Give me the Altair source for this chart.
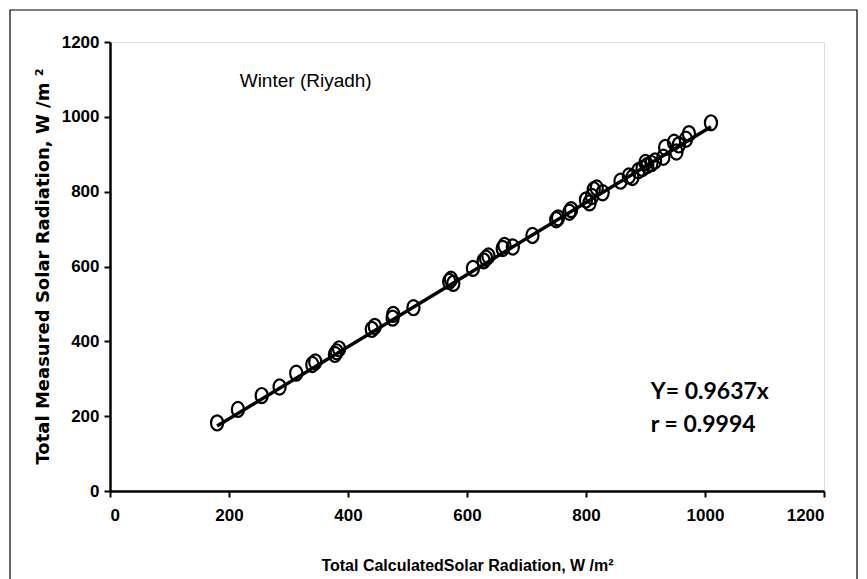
import altair as alt
import pandas as pd

# Data
calc = [180, 215, 255, 285, 313, 340, 345, 378, 381, 385, 440, 445, 475, 476, 510,
        570, 573, 577, 610, 628, 632, 636, 660, 663, 677, 710, 750, 753, 772, 775,
        800, 806, 810, 813, 818, 828, 858, 872, 878, 888, 895, 900, 903, 910, 916,
        930, 933, 948, 952, 956, 968, 973, 1010]
meas = [182, 218, 255, 278, 315, 338, 345, 365, 372, 380, 432, 440, 462, 472, 490,
        560, 566, 555, 595, 615, 622, 628, 648, 656, 652, 683, 725, 730, 745, 752,
        778, 770, 787, 805, 810, 797, 828, 842, 838, 856, 862, 878, 870, 875, 882,
        892, 918, 932, 906, 925, 940, 955, 984]

slope = 0.9637
fit_x = [180, 1010]
ticks = [0, 200, 400, 600, 800, 1000, 1200]

pts = pd.DataFrame({"calc": calc, "meas": meas})
fit = pd.DataFrame({"calc": fit_x, "meas": [slope * v for v in fit_x]})

labels = pd.DataFrame({
    "calc": [218, 909, 909],
    "meas": [1096, 265, 176],
    "txt": ["Winter  (Riyadh)", "Y= 0.9637x", "r = 0.9994"],
    "kind": ["title", "eq", "eq"],
})

xs = alt.Scale(domain=[0, 1200], nice=False, zero=False)
ys = alt.Scale(domain=[0, 1200], nice=False, zero=False)

sans = "Liberation Sans, Arial, sans-serif"

x_axis = alt.Axis(
    values=ticks, format="d", grid=False, title="Total CalculatedSolar Radiation, W /m\u00b2",
    labelFont=sans, labelFontWeight="bold", labelFontSize=17, labelColor="black",
    labelPadding=10, tickSize=6, tickWidth=2, tickColor="black",
    domainColor="black", domainWidth=2.5,
    titleFont=sans, titleFontWeight="bold", titleFontSize=16, titleColor="black",
    titleY=74, titleBaseline="middle",
)
y_axis = alt.Axis(
    values=ticks, format="d", grid=False, title="Total Measured Solar Radiation, W /m \u00b2",
    labelFont=sans, labelFontWeight="bold", labelFontSize=17, labelColor="black",
    labelPadding=5, tickSize=6, tickWidth=2, tickColor="black",
    domainColor="black", domainWidth=2.5,
    titleFont="DejaVu Sans", titleFontWeight="bold", titleFontSize=18, titleColor="black",
    titleX=-67, titleY=224, titleAngle=270, titleBaseline="middle", titleAlign="center",
)

ellipse = "M -0.8,0 A 0.8,1 0 1,1 0.8,0 A 0.8,1 0 1,1 -0.8,0 Z"

points = alt.Chart(pts).mark_point(
    shape=ellipse, filled=False, color="black", strokeWidth=2.2, size=230, opacity=1
).encode(
    x=alt.X("calc:Q", scale=xs, axis=x_axis),
    y=alt.Y("meas:Q", scale=ys, axis=y_axis),
)

line = alt.Chart(fit).mark_line(color="black", strokeWidth=3.5).encode(
    x=alt.X("calc:Q", scale=xs), y=alt.Y("meas:Q", scale=ys)
)

title_txt = alt.Chart(labels[labels.kind == "title"]).mark_text(
    align="left", baseline="middle", font=sans, fontSize=19, color="black"
).encode(x=alt.X("calc:Q", scale=xs), y=alt.Y("meas:Q", scale=ys), text="txt:N")

eq_txt = alt.Chart(labels[labels.kind == "eq"]).mark_text(
    align="left", baseline="middle", font="Lato", fontWeight="bold", fontSize=23, color="black"
).encode(x=alt.X("calc:Q", scale=xs), y=alt.Y("meas:Q", scale=ys), text="txt:N")

frame_df = pd.DataFrame({"k": [0]})
frame = alt.Chart(frame_df).mark_rect(
    fill=None, stroke="black", strokeWidth=1.2, clip=False
).encode(
    x=alt.value(-100), x2=alt.value(747), y=alt.value(-32), y2=alt.value(560)
)

chart = alt.layer(frame, line, points, title_txt, eq_txt).properties(
    width=714, height=449,
    autosize=alt.AutoSizeParams(type="none"),
    padding={"left": 102, "top": 34, "right": 35, "bottom": 100},
).configure_view(stroke="black", strokeWidth=1.5).configure(background="white")

chart.save("out.html", embed_options={"renderer": "svg", "actions": False})
